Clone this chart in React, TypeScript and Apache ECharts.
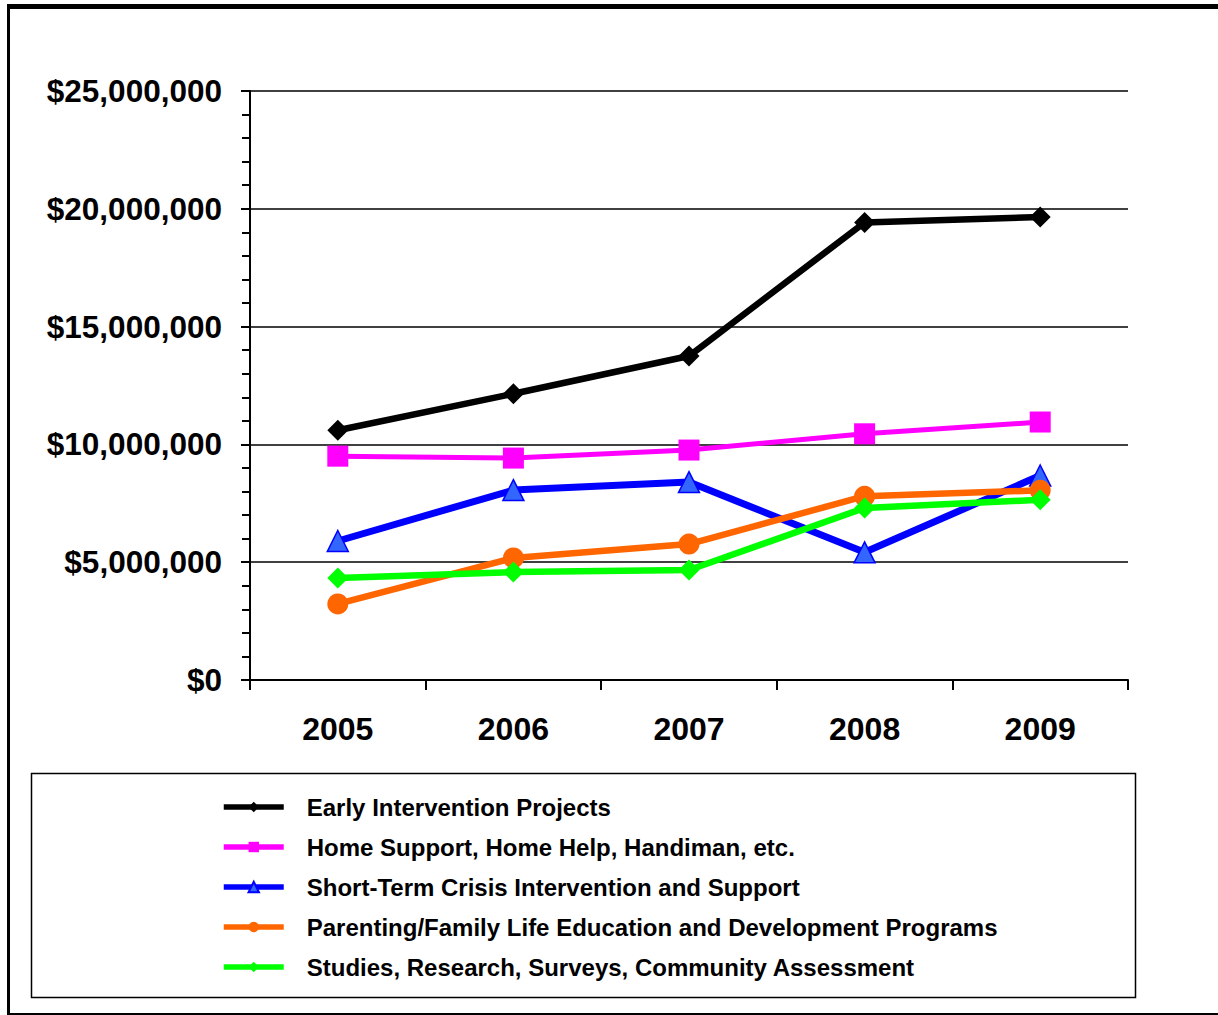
import React, { useEffect, useRef } from "react";
import * as echarts from "echarts";

const years = ["2005", "2006", "2007", "2008", "2009"];
const earlyIntervention = [10600000, 12150000, 13750000, 19420000, 19650000];
const homeSupport = [9500000, 9420000, 9760000, 10450000, 10950000];
const shortTermCrisis = [5900000, 8060000, 8400000, 5420000, 8680000];
const parenting = [3230000, 5180000, 5770000, 7800000, 8050000];
const studies = [4330000, 4580000, 4670000, 7300000, 7650000];
const seriesNames = [
  "Early Intervention Projects",
  "Home Support, Home Help, Handiman, etc.",
  "Short-Term Crisis Intervention and Support",
  "Parenting/Family Life Education and Development Programs",
  "Studies, Research, Surveys, Community Assessment",
];

const FONT = "Arial, 'Liberation Sans', Helvetica, sans-serif";

export default function App() {
  const ref = useRef<HTMLDivElement>(null);
  useEffect(() => {
    if (!ref.current) return;
    const chart = echarts.init(ref.current, undefined, { renderer: "svg" });
    const mk = (
      name: string,
      data: number[],
      color: string,
      symbol: string,
      symbolSize: number,
      width: number,
      itemStyle: any = {}
    ) => ({
      name,
      type: "line",
      data,
      symbol,
      symbolSize,
      showSymbol: true,
      lineStyle: { color, width },
      itemStyle: { color, ...itemStyle },
      emphasis: { disabled: true },
    });
    chart.setOption({
      animation: false,
      backgroundColor: "#fff",
      textStyle: { fontFamily: FONT },
      grid: { left: 250, right: 90, top: 91, bottom: 335, containLabel: false },
      xAxis: {
        type: "category",
        data: years,
        boundaryGap: true,
        axisLine: { lineStyle: { color: "#000", width: 2 } },
        axisTick: { show: true, length: 10, lineStyle: { color: "#000", width: 2 } },
        axisLabel: {
          margin: 33,
          color: "#000",
          fontSize: 32,
          fontWeight: "bold",
          fontFamily: FONT,
        },
        splitLine: { show: false },
      },
      yAxis: {
        type: "value",
        min: 0,
        max: 25000000,
        interval: 5000000,
        axisLine: { show: true, lineStyle: { color: "#000", width: 2 } },
        axisTick: { show: true, length: 9, lineStyle: { color: "#000", width: 2 } },
        minorTick: { show: true, splitNumber: 5, length: 8, lineStyle: { color: "#000", width: 2 } },
        splitLine: { show: true, lineStyle: { color: "#000", width: 1.5 } },
        axisLabel: {
          margin: 28,
          color: "#000",
          fontSize: 31.5,
          fontWeight: "bold",
          fontFamily: FONT,
          formatter: (v: number) => "$" + v.toLocaleString("en-US"),
        },
      },
      legend: {
        orient: "vertical",
        left: 216,
        top: 790,
        itemWidth: 60,
        itemHeight: 13,
        itemGap: 16,
        selectedMode: false,
        lineStyle: { width: 5.5 },
        textStyle: {
          fontSize: 24,
          lineHeight: 24,
          fontWeight: "bold",
          color: "#000",
          fontFamily: FONT,
          padding: [0, 0, 0, 18],
        },
        data: seriesNames,
      },
      series: [
        mk(seriesNames[0], earlyIntervention, "#000000", "diamond", 21, 6.5),
        mk(seriesNames[1], homeSupport, "#FF00FF", "rect", 21, 5),
        mk(seriesNames[2], shortTermCrisis, "#0000FF", "triangle", 21, 7, {
          color: "#3366FF",
          borderColor: "#0000FF",
          borderWidth: 1.5,
        }),
        mk(seriesNames[3], parenting, "#FF6600", "circle", 21, 6.5),
        mk(seriesNames[4], studies, "#00FF00", "diamond", 21, 6.5),
      ],
      graphic: [
        { type: "line", shape: { x1: 7, y1: 6.5, x2: 1218, y2: 6.5 }, style: { stroke: "#000", lineWidth: 5 } },
        { type: "line", shape: { x1: 8.5, y1: 4, x2: 8.5, y2: 1015 }, style: { stroke: "#000", lineWidth: 3 } },
        { type: "line", shape: { x1: 7, y1: 1014, x2: 1218, y2: 1014 }, style: { stroke: "#000", lineWidth: 2 } },
        {
          type: "rect",
          shape: { x: 31.5, y: 773.5, width: 1104, height: 224 },
          style: { fill: "none", stroke: "#000", lineWidth: 1.5 },
          z: -1,
        },
      ],
    });
    return () => chart.dispose();
  }, []);
  return (
    <div
      ref={ref}
      style={{ position: "absolute", left: 0, top: 0, width: 1218, height: 1015 }}
    />
  );
}
